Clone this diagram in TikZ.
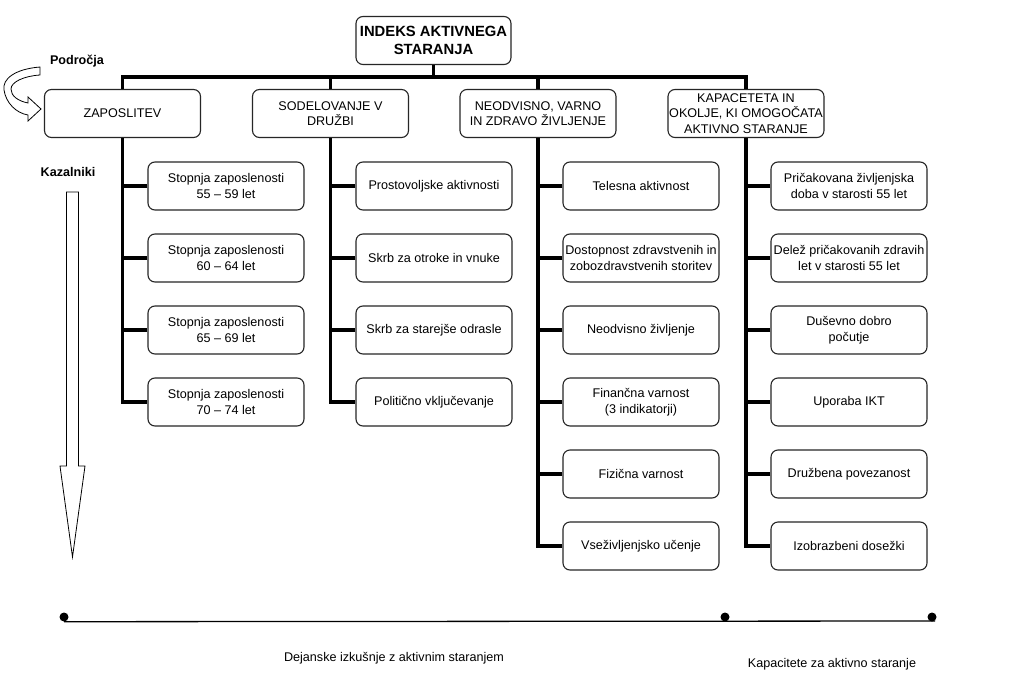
\documentclass[tikz,border=0pt]{standalone}
\usepackage{fontspec}
\setmainfont{Liberation Sans}
\begin{document}
\begin{tikzpicture}[x=1pt,y=-1pt,
  txt/.style={font=\fontsize{12.6}{15.5}\selectfont},
  boxnode/.style={draw=black!85, line width=1.1pt, rounded corners=7pt, fill=white,
    minimum width=156pt, minimum height=48pt, inner sep=0pt, align=center, txt},
  conn/.style={line width=3.6pt, line join=miter},
  dotnode/.style={circle, fill=black, minimum size=9pt, inner sep=0pt},
  lbl/.style={txt, inner sep=0pt},
  blbl/.style={font=\bfseries\fontsize{12.6}{15}\selectfont, inner sep=0pt}]
\useasboundingbox (0,0) rectangle (1019,674);
\fill[white] (0,0) rectangle (1019,674);

% root
\node[boxnode, minimum width=155pt, font=\bfseries\fontsize{14.8}{18}\selectfont] (root) at (433.5,40.5) {INDEKS AKTIVNEGA\\STARANJA};

% level 1
\node[boxnode] (A) at (122.5,113.5) {ZAPOSLITEV};
\node[boxnode] (B) at (330.5,113.5) {SODELOVANJE V\\DRUŽBI};
\node[boxnode] (C) at (538,113.5) {NEODVISNO, VARNO\\IN ZDRAVO ŽIVLJENJE};
\node[boxnode] (D) at (746,113.5) {KAPACETETA IN\\OKOLJE, KI OMOGOČATA\\AKTIVNO STARANJE};

% bus
\coordinate (bus) at (0,77);
\draw[conn] (root.south) -- (root.south |- bus);
\draw[conn] (A.north) -- (A.north |- bus) -- (D.north |- bus) -- (D.north);
\draw[conn] (B.north) -- (B.north |- bus);
\draw[conn] (C.north) -- (C.north |- bus);

% column A
\node[boxnode] (A1) at (226,186) {Stopnja zaposlenosti\\55 – 59 let};
\node[boxnode] (A2) at (226,258) {Stopnja zaposlenosti\\60 – 64 let};
\node[boxnode] (A3) at (226,330) {Stopnja zaposlenosti\\65 – 69 let};
\node[boxnode] (A4) at (226,402) {Stopnja zaposlenosti\\70 – 74 let};
\draw[conn] (A.south) |- (A4.west);
\foreach \n in {A1,A2,A3} \draw[conn] (\n.west) -- (\n.west -| A.south);

% column B
\node[boxnode] (B1) at (434,186) {Prostovoljske aktivnosti};
\node[boxnode] (B2) at (434,258) {Skrb za otroke in vnuke};
\node[boxnode] (B3) at (434,330) {Skrb za starejše odrasle};
\node[boxnode] (B4) at (434,402) {Politično vključevanje};
\draw[conn] (B.south) |- (B4.west);
\foreach \n in {B1,B2,B3} \draw[conn] (\n.west) -- (\n.west -| B.south);

% column C
\node[boxnode] (C1) at (641,186) {Telesna aktivnost};
\node[boxnode] (C2) at (641,258) {Dostopnost zdravstvenih in\\zobozdravstvenih storitev};
\node[boxnode] (C3) at (641,330) {Neodvisno življenje};
\node[boxnode] (C4) at (641,402) {Finančna varnost\\(3 indikatorji)};
\node[boxnode] (C5) at (641,474) {Fizična varnost};
\node[boxnode] (C6) at (641,546) {Vseživljenjsko učenje};
\draw[conn] (C.south) |- (C6.west);
\foreach \n in {C1,C2,C3,C4,C5} \draw[conn] (\n.west) -- (\n.west -| C.south);

% column D
\node[boxnode] (D1) at (849,186) {Pričakovana življenjska\\doba v starosti 55 let};
\node[boxnode] (D2) at (849,258) {Delež pričakovanih zdravih\\let v starosti 55 let};
\node[boxnode] (D3) at (849,330) {Duševno dobro\\počutje};
\node[boxnode] (D4) at (849,402) {Uporaba IKT};
\node[boxnode] (D5) at (849,474) {Družbena povezanost};
\node[boxnode] (D6) at (849,546) {Izobrazbeni dosežki};
\draw[conn] (D.south) |- (D6.west);
\foreach \n in {D1,D2,D3,D4,D5} \draw[conn] (\n.west) -- (\n.west -| D.south);

% left labels and arrows
\node[blbl] (podr) at (77,61) {Področja};
\draw[line width=0.8pt, fill=white] (40,67) .. controls (15,69) and (2,79) .. (4,90)
  .. controls (6,103) and (16,113) .. (28,115) -- (28,121) -- (41,109) -- (28,97) -- (28,103)
  .. controls (18,101) and (11,96) .. (11,89) .. controls (11,82) and (24,76) .. (40,75) -- cycle;

\node[blbl] (kaz) at (68,172) {Kazalniki};
\draw[line width=0.8pt, fill=white] (66.5,192) -- (78.5,192) -- (78.5,466) -- (85,466) -- (72.5,557)
  -- (60,466) -- (66.5,466) -- cycle;

% bottom axis
\node[dotnode] (d1) at (64,617) {};
\node[dotnode] (d2) at (725,617) {};
\node[dotnode] (d3) at (932,617) {};
\coordinate (dend) at (935,621);
\draw[line width=1.3pt] (d1.south) -- (dend);
\node[lbl] (lab1) at (394,658) {Dejanske izkušnje z aktivnim staranjem};
\node[lbl] (lab2) at (832,664) {Kapacitete za aktivno staranje};
\end{tikzpicture}
\end{document}
